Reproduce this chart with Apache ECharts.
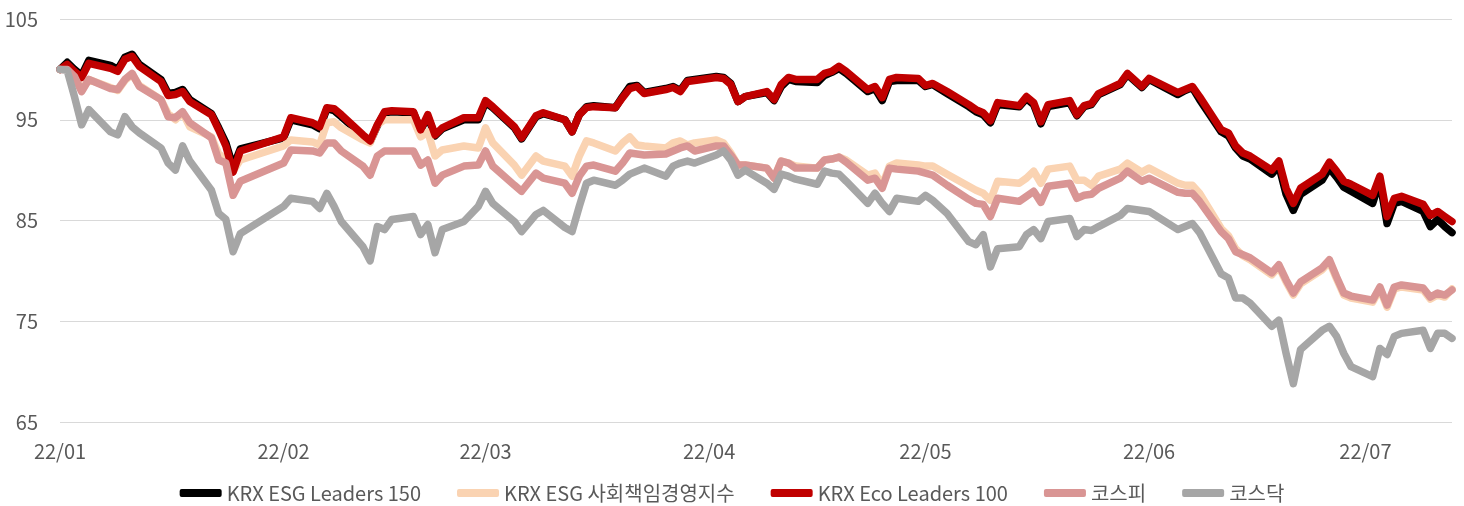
<!DOCTYPE html>
<html>
<head>
<meta charset="utf-8">
<script src="https://cdn.jsdelivr.net/npm/echarts@6/dist/echarts.min.js"></script>
<style>
html,body{margin:0;padding:0;background:#fff;}
#chartmain{width:1464px;height:506px;}
</style>
</head>
<body>
<div id="chartmain"></div>
<script>
// 거래일 (2022)
var tradeDays = {
  '01': [3,4,5,6,7,10,11,12,13,14,17,18,19,20,21,24,25,26,27,28],
  '02': [3,4,7,8,9,10,11,14,15,16,17,18,21,22,23,24,25,28],
  '03': [2,3,4,7,8,10,11,14,15,16,17,18,21,22,23,24,25,28,29,30,31],
  '04': [1,4,5,6,7,8,11,12,13,14,15,18,19,20,21,22,25,26,27,28,29],
  '05': [2,3,4,6,9,10,11,12,13,16,17,18,19,20,23,24,25,26,27,30,31],
  '06': [2,3,7,8,9,10,13,14,15,16,17,20,21,22,23,24,27,28,29,30],
  '07': [1,4,5,6,7,8,11,12,13,14,15]
};
// x축 라벨 위치
var tickDates = ['2022-01-03','2022-02-03','2022-03-03','2022-04-03','2022-05-03','2022-06-03','2022-07-03'];
var axisMin = '2022-01-03';
var axisMax = '2022-07-15';

var names = ['KRX ESG Leaders 150', 'KRX ESG 사회책임경영지수', 'KRX Eco Leaders 100', '코스피', '코스닥'];
var colors = ['#000000', '#FAD3B2', '#C00000', '#D99594', '#A6A6A6'];

// KRX ESG Leaders 150
var esgLeaders = [
  100.0,100.7,100.0,99.4,100.9,100.4,100.0,101.2,101.5,100.5,99.0,97.6,97.7,98.0,97.0,95.6,94.2,92.7,90.3,92.1,
  93.2,95.0,94.5,94.1,96.1,95.9,95.3,93.4,92.8,94.4,95.7,95.8,95.7,94.0,95.3,93.4,94.1,95.0,
  95.0,96.7,96.2,94.2,93.1,95.3,95.6,95.0,93.8,95.5,96.3,96.4,96.2,97.3,98.3,98.4,97.7,98.1,98.3,97.9,98.9,
  99.0,99.3,99.2,98.6,96.8,97.3,97.7,96.9,98.3,99.0,98.8,98.7,99.4,99.7,100.1,99.6,97.8,98.1,96.9,98.8,98.9,
  98.9,98.3,98.5,97.6,96.3,95.8,95.5,94.7,96.5,96.3,97.1,96.5,94.6,96.3,96.7,95.4,96.3,96.5,97.5,98.5,99.5,
  98.2,99.0,97.5,97.9,98.2,97.0,93.8,93.4,92.2,91.4,91.1,89.6,90.4,87.6,86.0,87.6,89.0,90.2,89.3,88.3,
  87.9,86.7,88.9,84.7,86.7,86.9,85.9,84.4,85.1,84.4,83.8
];
// KRX ESG 사회책임경영지수
var esgSri = [
  100.0,100.2,99.4,97.9,99.0,98.2,97.9,98.9,99.5,98.4,97.0,95.6,95.0,95.7,94.3,93.3,91.6,91.1,89.9,91.0,
  92.4,93.0,92.8,92.5,94.7,94.8,94.2,93.0,92.7,94.5,95.0,95.0,95.0,93.3,93.8,91.4,92.0,92.4,
  92.2,94.2,92.7,90.5,89.5,91.4,90.9,90.4,89.4,91.4,92.9,92.7,91.9,92.7,93.3,92.5,92.4,92.2,92.7,92.9,92.5,
  92.7,93.0,92.7,91.7,90.5,90.5,90.2,89.2,90.9,90.7,90.4,90.2,91.0,91.1,91.3,91.0,89.5,89.7,88.5,90.4,90.7,
  90.5,90.4,90.4,89.6,88.4,88.0,87.7,87.0,88.9,88.7,89.2,89.9,88.7,90.1,90.4,89.0,89.0,88.5,89.4,90.1,90.7,
  89.8,90.2,88.7,88.5,88.5,87.7,84.2,83.5,82.2,81.5,81.1,79.6,80.4,78.9,77.6,78.7,80.1,80.9,79.2,77.6,
  77.3,76.9,78.2,76.4,78.2,78.4,78.1,77.2,77.6,77.4,78.2
];
// KRX Eco Leaders 100
var ecoLeaders = [
  100.0,100.5,99.8,99.2,100.6,100.1,99.8,101.0,101.3,100.3,98.8,97.4,97.5,97.8,96.8,95.5,94.0,92.4,89.8,91.9,
  93.3,95.2,94.7,94.3,96.2,96.1,95.5,93.5,92.9,94.5,95.8,95.9,95.8,94.0,95.5,93.5,94.2,95.2,
  95.2,96.9,96.3,94.3,93.2,95.4,95.7,95.0,93.8,95.5,96.2,96.3,96.2,97.2,98.1,98.3,97.6,98.0,98.2,97.8,98.8,
  98.9,99.2,99.1,98.5,96.8,97.3,97.8,97.0,98.5,99.2,99.0,99.0,99.6,99.8,100.3,99.8,98.0,98.3,97.2,99.0,99.2,
  99.1,98.4,98.6,97.8,96.5,96.0,95.7,94.9,96.7,96.4,97.3,96.7,94.8,96.5,96.9,95.5,96.4,96.6,97.6,98.6,99.6,
  98.3,99.1,97.7,98.0,98.3,97.3,94.0,93.7,92.4,91.7,91.4,90.0,90.9,88.2,86.7,88.2,89.6,90.8,89.9,88.9,
  88.6,87.5,89.4,85.4,87.2,87.4,86.6,85.5,85.9,85.4,84.9
];
// 코스피
var kospi = [
  100.0,100.0,99.3,97.8,99.0,98.1,98.0,99.0,99.6,98.3,97.0,95.3,95.2,95.8,94.7,93.2,91.0,90.7,87.5,88.9,
  90.7,92.0,91.9,91.7,92.7,92.7,91.9,90.4,89.5,91.4,91.9,91.9,91.9,90.5,91.0,88.7,89.5,90.4,
  90.5,91.9,90.4,88.5,87.9,89.7,89.2,88.7,87.7,89.4,90.4,90.5,89.9,90.7,91.7,91.6,91.5,91.6,91.9,92.2,92.4,
  91.9,92.4,92.4,91.5,90.5,90.5,90.2,89.2,90.9,90.7,90.2,90.2,91.0,91.1,91.3,90.8,89.0,89.2,88.2,90.2,90.1,
  89.9,89.7,89.5,88.5,87.1,86.7,86.6,85.4,87.2,86.9,87.4,87.9,86.8,88.4,88.7,87.2,87.5,87.6,88.2,89.2,89.9,
  88.9,89.2,87.8,87.7,87.7,86.9,83.9,83.2,81.9,81.6,81.3,79.8,80.6,79.1,77.8,78.9,80.3,81.1,79.4,77.8,
  77.5,77.1,78.4,76.6,78.4,78.6,78.3,77.4,77.8,77.6,78.1
];
// 코스닥
var kosdaq = [
  100.0,99.9,97.3,94.5,96.0,93.8,93.5,95.3,94.3,93.7,92.2,90.7,90.0,92.4,90.9,88.0,85.7,85.1,81.9,83.7,
  86.4,87.2,86.9,86.2,87.7,86.4,84.9,82.4,81.0,84.4,84.1,85.1,85.4,83.6,84.6,81.8,84.1,84.9,
  86.4,87.9,86.7,84.9,83.9,85.6,86.0,84.3,83.9,86.4,88.7,89.0,88.5,89.0,89.6,89.9,90.2,89.4,90.4,90.7,90.9,
  90.7,91.5,91.9,91.0,89.5,90.0,88.7,88.1,89.6,89.4,89.1,88.6,89.9,89.7,89.6,88.9,86.7,87.7,86.7,85.9,87.2,
  86.9,87.5,87.0,85.7,82.9,82.6,83.6,80.4,82.2,82.4,83.6,84.1,83.2,84.9,85.2,83.4,84.1,84.0,84.4,85.5,86.2,
  86.0,85.9,84.1,84.4,84.7,83.8,79.7,79.3,77.3,77.3,76.8,74.5,75.1,71.8,68.8,72.2,74.1,74.5,73.5,71.8,
  70.5,69.5,72.3,71.7,73.5,73.8,74.1,72.3,73.8,73.8,73.3
];

function toTime(s){
  var p = s.split('-');
  return new Date(+p[0], +p[1] - 1, +p[2]).getTime();
}
var dates = [];
Object.keys(tradeDays).forEach(function(m){
  tradeDays[m].forEach(function(d){
    dates.push(new Date(2022, +m - 1, d).getTime());
  });
});
function pairs(vals){
  return dates.map(function(t, i){ return [t, vals[i]]; });
}

var seriesValues = [esgLeaders, esgSri, ecoLeaders, kospi, kosdaq];
var fontFamily = '"Noto Sans CJK KR", "Noto Sans", sans-serif';

var option = {
  animation: false,
  backgroundColor: '#fff',
  color: colors,
  grid: { left: 60, right: 12, top: 19, bottom: 84 },
  legend: {
    top: 483,
    left: 'center',
    padding: 0,
    icon: 'roundRect',
    itemWidth: 42,
    itemHeight: 8,
    itemGap: 36,
    textStyle: { fontSize: 20, color: '#595959', fontFamily: fontFamily },
    data: names
  },
  xAxis: {
    type: 'value',
    min: toTime(axisMin),
    max: toTime(axisMax),
    axisLine: { show: false },
    axisTick: { show: false },
    splitLine: { show: false },
    axisLabel: {
      customValues: tickDates.map(toTime),
      showMinLabel: true,
      hideOverlap: false,
      margin: 19,
      fontSize: 20,
      color: '#595959',
      fontFamily: fontFamily,
      formatter: function(v){
        var d = new Date(v);
        var mm = d.getMonth() + 1;
        return '22/' + (mm < 10 ? '0' + mm : mm);
      }
    }
  },
  yAxis: {
    type: 'value',
    min: 65,
    max: 105,
    interval: 10,
    axisLine: { show: false },
    axisTick: { show: false },
    axisLabel: { fontSize: 20, color: '#595959', margin: 22, fontFamily: fontFamily },
    splitLine: { lineStyle: { color: '#d9d9d9', width: 1 } }
  },
  series: seriesValues.map(function(vals, i){
    return {
      name: names[i],
      type: 'line',
      showSymbol: false,
      symbol: 'none',
      data: pairs(vals),
      lineStyle: { width: 7.5, color: colors[i], cap: 'round', join: 'round' }
    };
  })
};

var chartmain = echarts.init(document.getElementById('chartmain'));
chartmain.setOption(option);
</script>
</body>
</html>
